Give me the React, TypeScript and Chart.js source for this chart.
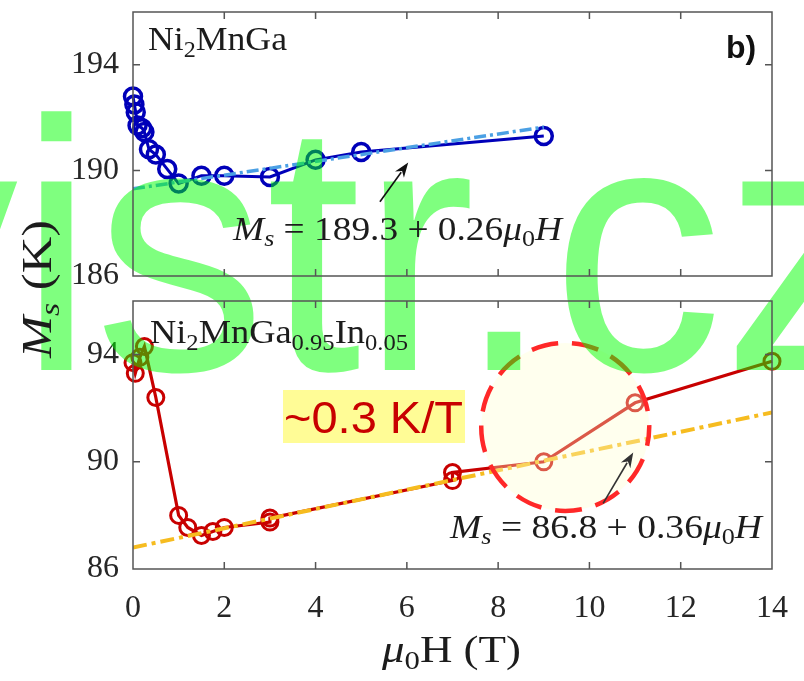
import React, { useEffect, useRef } from 'react';
import { Chart, registerables } from 'chart.js';

Chart.register(...registerables);

// ---------- data ----------
const xTicks = [0, 2, 4, 6, 8, 10, 12, 14];
const topYTicks = [186, 190, 194];
const bottomYTicks = [86, 90, 94];

// Ni2MnGa (top panel)
const ni2mngaField = [0, 0.03, 0.06, 0.1, 0.2, 0.25, 0.35, 0.5, 0.75, 1.0, 1.5, 2.0, 3.0, 4.0, 5.0, 9.0];
const ni2mngaMs = [192.8, 192.5, 192.2, 191.7, 191.6, 191.45, 190.8, 190.6, 190.05, 189.5, 189.8, 189.8, 189.75, 190.4, 190.7, 191.3];
const topFitField = [0, 9];
const topFitMs = [189.3, 191.64];

// Ni2MnGa0.95In0.05 (bottom panel)
const inField = [0, 0.05, 0.15, 0.25, 0.5, 1.0, 1.2, 1.5, 1.75, 2.0, 3.0, 3.0, 7.0, 7.0, 9.0, 11.0, 14.0];
const inMs = [93.7, 93.3, 93.9, 94.3, 92.4, 88.0, 87.55, 87.25, 87.4, 87.55, 87.75, 87.9, 89.3, 89.6, 90.0, 92.2, 93.75];
const bottomFitField = [0, 14];
const bottomFitMs = [86.8, 91.84];

// annotation anchors (data coordinates)
const highlightCenter = { x: 9.47, y: 91.3 };
const topArrow = { x0: 5.41, y0: 188.81, x1: 6.03, y1: 190.3 };
const bottomArrow = { x0: 10.3, y0: 88.45, x1: 10.96, y1: 90.35 };

// ---------- styles ----------
const SERIF = '"Liberation Serif", "Times New Roman", serif';
const SANS = '"Liberation Sans", Arial, sans-serif';
const FRAME = 'rgb(85,85,85)';
const TEXT = '#1c1c1c';

type Run = { t: string; font: string; dy?: number };

function runsWidth(ctx: CanvasRenderingContext2D, runs: Run[]) {
  let w = 0;
  for (const r of runs) {
    ctx.font = r.font;
    w += ctx.measureText(r.t).width;
  }
  return w;
}

function drawRunsFit(ctx: CanvasRenderingContext2D, runs: Run[], x: number, y: number, target: number, color: string) {
  const nat = runsWidth(ctx, runs);
  const s = target / nat;
  ctx.save();
  ctx.translate(x, y);
  ctx.scale(s, 1);
  ctx.fillStyle = color;
  ctx.textAlign = 'left';
  ctx.textBaseline = 'alphabetic';
  let cx = 0;
  for (const r of runs) {
    ctx.font = r.font;
    ctx.fillText(r.t, cx, r.dy || 0);
    cx += ctx.measureText(r.t).width;
  }
  ctx.restore();
}

function drawArrow(ctx: CanvasRenderingContext2D, x0: number, y0: number, x1: number, y1: number, color: string) {
  const ang = Math.atan2(y1 - y0, x1 - x0);
  const hl = 15, hw = 5.5;
  ctx.save();
  ctx.strokeStyle = color;
  ctx.fillStyle = color;
  ctx.lineWidth = 1.6;
  ctx.beginPath();
  ctx.moveTo(x0, y0);
  ctx.lineTo(x1 - Math.cos(ang) * hl * 0.8, y1 - Math.sin(ang) * hl * 0.8);
  ctx.stroke();
  ctx.beginPath();
  ctx.moveTo(x1, y1);
  const bx = x1 - Math.cos(ang) * hl, by = y1 - Math.sin(ang) * hl;
  ctx.lineTo(bx + Math.sin(ang) * hw, by - Math.cos(ang) * hw);
  ctx.lineTo(x1 - Math.cos(ang) * hl * 0.7, y1 - Math.sin(ang) * hl * 0.7);
  ctx.lineTo(bx - Math.sin(ang) * hw, by + Math.cos(ang) * hw);
  ctx.closePath();
  ctx.fill();
  ctx.restore();
}

function drawWatermark(ctx: CanvasRenderingContext2D, offset: number) {
  ctx.save();
  ctx.font = `357px ${SANS}`;
  ctx.fillStyle = 'rgba(0,255,0,0.5)';
  ctx.textAlign = 'left';
  ctx.textBaseline = 'alphabetic';
  ctx.translate(-153, 370 - offset);
  ctx.scale(0.96, 1);
  ctx.fillText('vistr.cz', 0, 0);
  ctx.restore();
}

function drawYTitle(ctx: CanvasRenderingContext2D, offset: number) {
  ctx.save();
  ctx.translate(51, 358 - offset);
  ctx.rotate(-Math.PI / 2);
  drawRunsFit(ctx, [
    { t: 'M', font: `italic 42px ${SERIF}` },
    { t: 's', font: `italic 28px ${SERIF}`, dy: 8 },
    { t: ' (K)', font: `42px ${SERIF}` },
  ], 0, 0, 138, TEXT);
  ctx.restore();
}

function drawFrame(chart: any, yTicks: number[]) {
  const ctx = chart.ctx as CanvasRenderingContext2D;
  const { left, right, top, bottom } = chart.chartArea;
  const xs = chart.scales.x, ys = chart.scales.y;
  ctx.save();
  ctx.strokeStyle = FRAME;
  ctx.lineWidth = 1.5;
  ctx.strokeRect(left, top, right - left, bottom - top);
  ctx.beginPath();
  for (const v of xTicks) {
    const px = xs.getPixelForValue(v);
    if (px <= left + 2 || px >= right - 2) continue;
    ctx.moveTo(px, bottom); ctx.lineTo(px, bottom - 7);
    ctx.moveTo(px, top); ctx.lineTo(px, top + 7);
  }
  for (const v of yTicks) {
    const py = ys.getPixelForValue(v);
    if (py >= bottom - 2 || py <= top + 2) continue;
    ctx.moveTo(left, py); ctx.lineTo(left + 7, py);
    ctx.moveTo(right, py); ctx.lineTo(right - 7, py);
  }
  ctx.stroke();
  ctx.restore();
}

const topPlugin = {
  id: 'topDecor',
  afterDatasetsDraw(chart: any) {
    drawWatermark(chart.ctx, 0);
  },
  afterDraw(chart: any) {
    const ctx = chart.ctx as CanvasRenderingContext2D;
    const xs = chart.scales.x, ys = chart.scales.y;
    drawFrame(chart, topYTicks);
    drawRunsFit(ctx, [
      { t: 'Ni', font: `34px ${SERIF}` },
      { t: '2', font: `23px ${SERIF}`, dy: 7 },
      { t: 'MnGa', font: `34px ${SERIF}` },
    ], 148, 50, 139, TEXT);
    ctx.save();
    ctx.font = `bold 32px ${SANS}`;
    ctx.fillStyle = '#111';
    ctx.fillText('b)', 726, 58);
    ctx.restore();
    drawArrow(ctx, xs.getPixelForValue(topArrow.x0), ys.getPixelForValue(topArrow.y0),
      xs.getPixelForValue(topArrow.x1), ys.getPixelForValue(topArrow.y1), '#111');
    drawRunsFit(ctx, [
      { t: 'M', font: `italic 33px ${SERIF}` },
      { t: 's', font: `italic 23px ${SERIF}`, dy: 6 },
      { t: ' = 189.3 + 0.26', font: `33px ${SERIF}` },
      { t: 'μ', font: `italic 33px ${SERIF}` },
      { t: '0', font: `23px ${SERIF}`, dy: 6 },
      { t: 'H', font: `italic 33px ${SERIF}` },
    ], 233, 240, 329, TEXT);
    drawYTitle(ctx, 0);
  },
};

const bottomPlugin = {
  id: 'bottomDecor',
  afterDatasetsDraw(chart: any) {
    const ctx = chart.ctx as CanvasRenderingContext2D;
    const xs = chart.scales.x, ys = chart.scales.y;
    const cx = xs.getPixelForValue(highlightCenter.x);
    const cy = ys.getPixelForValue(highlightCenter.y);
    ctx.save();
    ctx.beginPath();
    ctx.arc(cx, cy, 84, 0, Math.PI * 2);
    ctx.fillStyle = 'rgba(255,255,205,0.35)';
    ctx.fill();
    ctx.setLineDash([27, 14]);
    ctx.lineDashOffset = 8;
    ctx.strokeStyle = 'rgb(255,40,40)';
    ctx.lineWidth = 4.5;
    ctx.stroke();
    ctx.restore();
    drawWatermark(ctx, 290);
  },
  afterDraw(chart: any) {
    const ctx = chart.ctx as CanvasRenderingContext2D;
    const xs = chart.scales.x, ys = chart.scales.y;
    drawFrame(chart, bottomYTicks);
    drawRunsFit(ctx, [
      { t: 'Ni', font: `34px ${SERIF}` },
      { t: '2', font: `23px ${SERIF}`, dy: 7 },
      { t: 'MnGa', font: `34px ${SERIF}` },
      { t: '0.95', font: `23px ${SERIF}`, dy: 7 },
      { t: 'In', font: `34px ${SERIF}` },
      { t: '0.05', font: `23px ${SERIF}`, dy: 7 },
    ], 150, 343 - 290, 258, TEXT);
    // highlight box
    ctx.save();
    ctx.fillStyle = 'rgb(255,252,150)';
    ctx.fillRect(283, 390 - 290, 182, 53);
    ctx.restore();
    drawRunsFit(ctx, [{ t: '~0.3 K/T', font: `45px ${SANS}` }], 284, 433 - 290, 179, 'rgb(200,0,0)');
    drawArrow(ctx, xs.getPixelForValue(bottomArrow.x0), ys.getPixelForValue(bottomArrow.y0),
      xs.getPixelForValue(bottomArrow.x1), ys.getPixelForValue(bottomArrow.y1), '#333');
    drawRunsFit(ctx, [
      { t: 'M', font: `italic 33px ${SERIF}` },
      { t: 's', font: `italic 23px ${SERIF}`, dy: 6 },
      { t: ' = 86.8 + 0.36', font: `33px ${SERIF}` },
      { t: 'μ', font: `italic 33px ${SERIF}` },
      { t: '0', font: `23px ${SERIF}`, dy: 6 },
      { t: 'H', font: `italic 33px ${SERIF}` },
    ], 450, 538 - 290, 312, TEXT);
    // x axis title
    drawRunsFit(ctx, [
      { t: 'μ', font: `italic 38px ${SERIF}` },
      { t: '0', font: `26px ${SERIF}`, dy: 7 },
      { t: 'H (T)', font: `38px ${SERIF}` },
    ], 382, 662 - 290, 139, TEXT);
    drawYTitle(ctx, 290);
  },
};

function pts(xs: number[], ys: number[]) {
  return xs.map((x, i) => ({ x, y: ys[i] }));
}

const tickFont = { family: SERIF, size: 32 };

function yScale(min: number, max: number, ticks: number[]) {
  return {
    type: 'linear' as const,
    position: 'left' as const,
    min,
    max,
    grid: { display: false, drawTicks: false },
    border: { display: false },
    ticks: { font: tickFont, color: '#262626', padding: 14 },
    afterFit: (s: any) => { s.width = 133; s.paddingTop = 0; s.paddingBottom = 0; },
    afterBuildTicks: (s: any) => { s.ticks = ticks.map((v) => ({ value: v })); },
  };
}

export default function App() {
  const topRef = useRef<HTMLCanvasElement>(null);
  const botRef = useRef<HTMLCanvasElement>(null);

  useEffect(() => {
    const c1 = new Chart(topRef.current!, {
      type: 'line',
      data: {
        datasets: [
          {
            data: pts(topFitField, topFitMs),
            borderColor: 'rgb(75,160,228)',
            borderWidth: 3.5,
            borderDash: [12, 4, 3, 4],
            pointRadius: 0,
            order: 0,
          },
          {
            data: pts(ni2mngaField, ni2mngaMs),
            borderColor: 'rgb(0,0,185)',
            borderWidth: 3,
            pointRadius: 8.5,
            pointBorderWidth: 3.5,
            pointBorderColor: 'rgb(0,0,185)',
            pointBackgroundColor: 'rgba(0,0,0,0)',
            clip: false as any,
            order: 1,
          },
        ],
      },
      options: {
        responsive: false,
        animation: false,
        devicePixelRatio: 1,
        layout: { padding: { top: 5, right: 32, bottom: 14, left: 0 } },
        plugins: { legend: { display: false }, tooltip: { enabled: false } },
        scales: {
          x: { type: 'linear', min: 0, max: 14, display: false },
          y: yScale(186, 196, topYTicks) as any,
        },
      },
      plugins: [topPlugin],
    });

    const c2 = new Chart(botRef.current!, {
      type: 'line',
      data: {
        datasets: [
          {
            data: pts(bottomFitField, bottomFitMs),
            borderColor: 'rgb(246,188,32)',
            borderWidth: 4,
            borderDash: [14, 5, 4, 5],
            pointRadius: 0,
            order: 0,
          },
          {
            data: pts(inField, inMs),
            borderColor: 'rgb(200,0,0)',
            borderWidth: 3.2,
            pointRadius: 8,
            pointBorderWidth: 3,
            pointBorderColor: 'rgb(200,0,0)',
            pointBackgroundColor: 'rgba(0,0,0,0)',
            clip: false as any,
            order: 1,
          },
        ],
      },
      options: {
        responsive: false,
        animation: false,
        devicePixelRatio: 1,
        layout: { padding: { top: 10, right: 32, bottom: 52, left: 0 } },
        plugins: { legend: { display: false }, tooltip: { enabled: false } },
        scales: {
          x: {
            type: 'linear',
            min: 0,
            max: 14,
            grid: { display: false, drawTicks: false },
            border: { display: false },
            ticks: { font: tickFont, color: '#262626', padding: 20, autoSkip: false, maxRotation: 0 },
            afterFit: (s: any) => { s.height = 60; s.paddingLeft = 0; s.paddingRight = 0; },
            afterBuildTicks: (s: any) => { s.ticks = xTicks.map((v) => ({ value: v })); },
          } as any,
          y: yScale(86, 96, bottomYTicks) as any,
        },
      },
      plugins: [bottomPlugin],
    });

    return () => {
      c1.destroy();
      c2.destroy();
    };
  }, []);

  return (
    <div style={{ position: 'absolute', left: 0, top: 0, width: 804, height: 681, background: '#fff' }}>
      <canvas ref={topRef} width={804} height={290} style={{ position: 'absolute', left: 0, top: 0, width: 804, height: 290 }} />
      <canvas ref={botRef} width={804} height={391} style={{ position: 'absolute', left: 0, top: 290, width: 804, height: 391 }} />
    </div>
  );
}
